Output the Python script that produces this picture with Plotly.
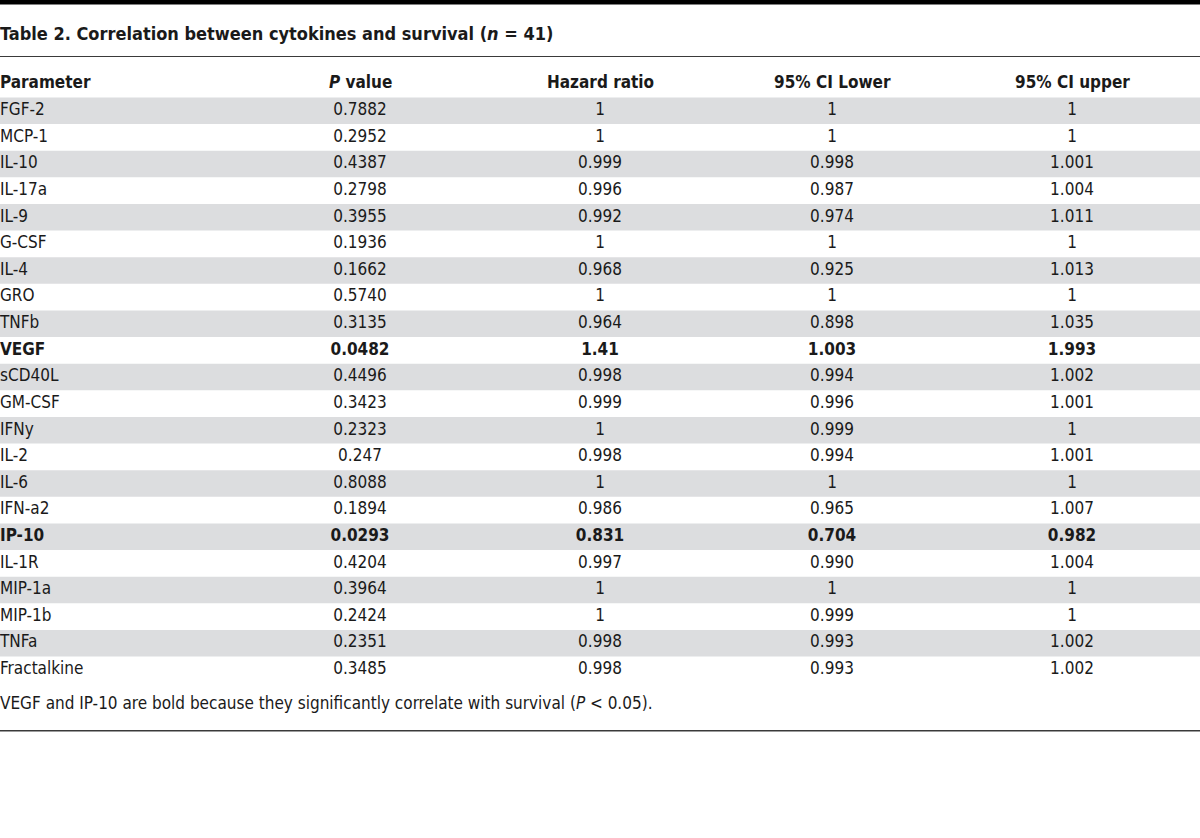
import plotly.graph_objects as go

# ---- data ----
parameters = ["FGF-2", "MCP-1", "IL-10", "IL-17a", "IL-9", "G-CSF", "IL-4", "GRO", "TNFb",
              "VEGF", "sCD40L", "GM-CSF", "IFNy", "IL-2", "IL-6", "IFN-a2", "IP-10", "IL-1R",
              "MIP-1a", "MIP-1b", "TNFa", "Fractalkine"]
p_values = ["0.7882", "0.2952", "0.4387", "0.2798", "0.3955", "0.1936", "0.1662", "0.5740", "0.3135",
            "0.0482", "0.4496", "0.3423", "0.2323", "0.247", "0.8088", "0.1894", "0.0293", "0.4204",
            "0.3964", "0.2424", "0.2351", "0.3485"]
hazard_ratio = ["1", "1", "0.999", "0.996", "0.992", "1", "0.968", "1", "0.964",
                "1.41", "0.998", "0.999", "1", "0.998", "1", "0.986", "0.831", "0.997",
                "1", "1", "0.998", "0.998"]
ci_lower = ["1", "1", "0.998", "0.987", "0.974", "1", "0.925", "1", "0.898",
            "1.003", "0.994", "0.996", "0.999", "0.994", "1", "0.965", "0.704", "0.990",
            "1", "0.999", "0.993", "0.993"]
ci_upper = ["1", "1", "1.001", "1.004", "1.011", "1", "1.013", "1", "1.035",
            "1.993", "1.002", "1.001", "1", "1.001", "1", "1.007", "0.982", "1.004",
            "1", "1", "1.002", "1.002"]
bold_rows = ["VEGF", "IP-10"]
headers = ["Parameter", "<i>P</i> value", "Hazard ratio", "95% CI Lower", "95% CI upper"]
title_text = "Table 2. Correlation between cytokines and survival (<i>n</i> = 41)"
footnote = "VEGF and IP-10 are bold because they significantly correlate with survival (<i>P</i> < 0.05)."

# ---- layout constants ----
W, H = 1200, 838
ROW_H = 26.62
ROW0_TOP = 97.5
FONT = "Liberation Sans Narrow, Arial Narrow, DejaVu Sans Condensed, sans-serif"
TXT = "#1a1a1a"
SHADE = "#dcdddf"
col_x = [0, 360, 600, 832, 1072]
col_anchor = ["left", "center", "center", "center", "center"]

def row_center(i):
    return ROW0_TOP + ROW_H * (i + 0.5)

fig = go.Figure()
shapes = []
annotations = []
n = len(parameters)

# top black bar
shapes.append(dict(type="rect", xref="x", yref="y", x0=0, x1=W, y0=0, y1=4.5,
                   fillcolor="#000000", line_width=0, layer="below"))
# title rule
shapes.append(dict(type="line", xref="x", yref="y", x0=0, x1=W, y0=56.5, y1=56.5,
                   line=dict(color="#3a3a3a", width=1.2)))

# row shading
for i in range(n):
    if i % 2 == 0:
        shapes.append(dict(type="rect", xref="x", yref="y", x0=0, x1=W,
                           y0=ROW0_TOP + ROW_H * i, y1=ROW0_TOP + ROW_H * (i + 1),
                           fillcolor=SHADE, line_width=0, layer="below"))

table_bottom = ROW0_TOP + ROW_H * n
bottom_rule = table_bottom + 47.5
shapes.append(dict(type="line", xref="x", yref="y", x0=0, x1=W, y0=bottom_rule, y1=bottom_rule,
                   line=dict(color="#3a3a3a", width=1.5)))

ann_common = dict(xref="x", yref="y", showarrow=False, yanchor="middle", borderpad=0, borderwidth=0)

# title
annotations.append(dict(x=0, y=33.5, text="<b>" + title_text + "</b>", xanchor="left",
                        font=dict(family=FONT, size=18, color=TXT), **ann_common))
# headers
for cx, anc, h in zip(col_x, col_anchor, headers):
    annotations.append(dict(x=cx, y=82, text="<b>" + h + "</b>", xanchor=anc,
                            font=dict(family=FONT, size=17, color=TXT), **ann_common))

# body text via scatter text traces
columns = [parameters, p_values, hazard_ratio, ci_lower, ci_upper]
ys = [row_center(i) for i in range(n)]
for cx, anc, col in zip(col_x, col_anchor, columns):
    texts = ["<b>" + v + "</b>" if parameters[i] in bold_rows else v for i, v in enumerate(col)]
    pos = "middle right" if anc == "left" else "middle center"
    fig.add_trace(go.Scatter(x=[cx] * n, y=ys, mode="text", text=texts,
                             textposition=pos, cliponaxis=False, hoverinfo="skip",
                             textfont=dict(family=FONT, size=17, color=TXT), showlegend=False))

# footnote
annotations.append(dict(x=0, y=table_bottom + 19.5, text=footnote, xanchor="left",
                        font=dict(family=FONT, size=17, color=TXT), **ann_common))

fig.update_layout(
    width=W, height=H, margin=dict(l=0, r=0, t=0, b=0),
    paper_bgcolor="white", plot_bgcolor="white",
    xaxis=dict(range=[0, W], visible=False, fixedrange=True),
    yaxis=dict(range=[H, 0], visible=False, fixedrange=True),
    shapes=shapes, annotations=annotations, showlegend=False,
)

fig.write_html("out.html", config={"displayModeBar": False},
               post_script="document.body.style.margin='0';document.body.style.padding='0';")
